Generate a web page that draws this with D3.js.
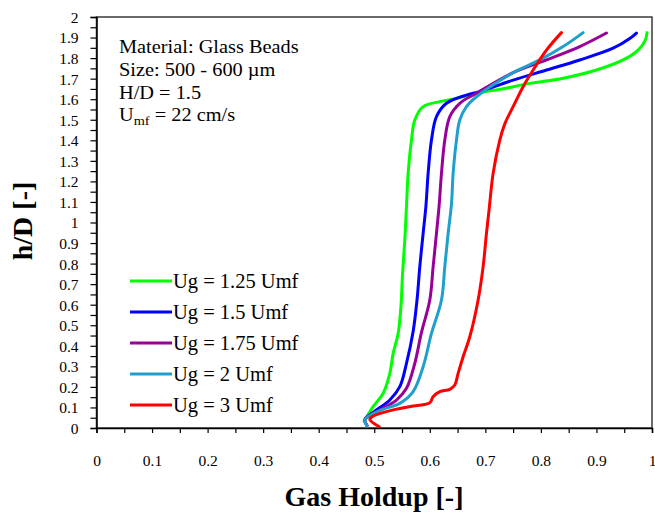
<!DOCTYPE html>
<html>
<head>
<meta charset="utf-8">
<script src="https://cdn.jsdelivr.net/npm/d3@7"></script>
<style>
  html, body { margin: 0; padding: 0; background: #fff; }
  svg { display: block; }
  text { font-family: "Liberation Serif", "Times New Roman", serif; fill: #000; }
</style>
</head>
<body>
<script>
// Gas holdup profiles along the bed height for five superficial velocities
const seriesNames = ["Ug = 1.25 Umf", "Ug = 1.5 Umf", "Ug = 1.75 Umf", "Ug = 2 Umf", "Ug = 3 Umf"];
const seriesColors = ["#00ff00", "#0000ff", "#990099", "#1f9fcb", "#ff0000"];

const holdup125 = [0.482,0.490,0.498,0.516,0.528,0.534,0.543,0.548,0.551,0.555,0.558,0.561,0.567,0.573,0.588,0.618,0.648,0.690,0.730,0.780,0.840,0.900,0.948,0.975,0.988,0.991];
const height125 = [0.035,0.070,0.104,0.169,0.266,0.363,0.460,0.590,0.753,0.915,1.080,1.239,1.401,1.499,1.564,1.588,1.604,1.632,1.650,1.677,1.702,1.742,1.791,1.839,1.888,1.924];

const holdup150 = [0.487,0.483,0.500,0.528,0.546,0.558,0.570,0.577,0.582,0.588,0.593,0.597,0.603,0.612,0.630,0.666,0.690,0.750,0.810,0.870,0.930,0.960,0.972];
const height150 = [0.012,0.040,0.080,0.136,0.201,0.315,0.470,0.623,0.785,0.947,1.080,1.239,1.401,1.515,1.580,1.620,1.637,1.693,1.742,1.791,1.848,1.895,1.922];

const holdup175 = [0.487,0.483,0.505,0.540,0.558,0.573,0.585,0.600,0.606,0.612,0.617,0.621,0.627,0.636,0.654,0.684,0.750,0.810,0.870,0.918];
const height175 = [0.012,0.040,0.080,0.136,0.193,0.315,0.465,0.623,0.785,0.947,1.090,1.239,1.401,1.515,1.580,1.629,1.729,1.791,1.856,1.922];

const holdup200 = [0.487,0.483,0.510,0.546,0.570,0.588,0.603,0.621,0.627,0.633,0.639,0.642,0.648,0.654,0.666,0.684,0.750,0.798,0.840,0.876];
const height200 = [0.010,0.040,0.085,0.120,0.177,0.298,0.460,0.623,0.785,0.947,1.090,1.239,1.401,1.499,1.564,1.612,1.729,1.791,1.856,1.924];

const holdup300 = [0.509,0.492,0.498,0.534,0.570,0.600,0.606,0.618,0.636,0.645,0.651,0.660,0.672,0.687,0.696,0.702,0.707,0.714,0.726,0.735,0.750,0.768,0.786,0.810,0.837];
const height300 = [0.006,0.042,0.058,0.088,0.107,0.123,0.152,0.177,0.188,0.209,0.266,0.347,0.444,0.623,0.785,0.947,1.069,1.239,1.401,1.480,1.564,1.661,1.742,1.839,1.924];

const xTickLabels = ["0","0.1","0.2","0.3","0.4","0.5","0.6","0.7","0.8","0.9","1"];
const yTickLabels = ["0","0.1","0.2","0.3","0.4","0.5","0.6","0.7","0.8","0.9","1","1.1","1.2","1.3","1.4","1.5","1.6","1.7","1.8","1.9","2"];

const infoLines = ["Material: Glass Beads", "Size: 500 - 600 \u00b5m", "H/D = 1.5"];

const series = [
  { name: seriesNames[0], color: seriesColors[0], x: holdup125, y: height125 },
  { name: seriesNames[1], color: seriesColors[1], x: holdup150, y: height150 },
  { name: seriesNames[2], color: seriesColors[2], x: holdup175, y: height175 },
  { name: seriesNames[3], color: seriesColors[3], x: holdup200, y: height200 },
  { name: seriesNames[4], color: seriesColors[4], x: holdup300, y: height300 }
];

const W = 655, H = 516;
const plot = { left: 96.5, right: 652, top: 17, bottom: 428 };

const svg = d3.select("body").append("svg").attr("width", W).attr("height", H);

const x = d3.scaleLinear().domain([0, 1]).range([plot.left, plot.right]);
const y = d3.scaleLinear().domain([0, 2]).range([plot.bottom, plot.top]);

// frame around the plotting area
svg.append("rect")
  .attr("x", plot.left).attr("y", plot.top)
  .attr("width", plot.right - plot.left).attr("height", plot.bottom - plot.top)
  .attr("fill", "none").attr("stroke", "#3a3a3a").attr("stroke-width", 1.5);

// axes: ticks every 0.05, labels every 0.1
const xTicks = d3.range(0, 21).map(i => i * 0.05);
const yTicks = d3.range(0, 41).map(i => i * 0.05);

const xAxis = d3.axisBottom(x).tickValues(xTicks).tickSize(5)
  .tickFormat((d, i) => i % 2 === 0 ? xTickLabels[i / 2] : "");
const yAxis = d3.axisLeft(y).tickValues(yTicks).tickSize(6)
  .tickFormat((d, i) => i % 2 === 0 ? yTickLabels[i / 2] : "");

const gx = svg.append("g").attr("transform", `translate(0,${plot.bottom})`).call(xAxis);
const gy = svg.append("g").attr("transform", `translate(${plot.left},0)`).call(yAxis);

[gx, gy].forEach(g => {
  g.select(".domain").attr("stroke", "#000").attr("stroke-width", 1.5);
  g.selectAll(".tick line").attr("stroke", "#000").attr("stroke-width", 1.2);
  g.selectAll(".tick text").style("font-family", "'Liberation Serif', serif").style("font-size", "15.5px").attr("fill", "#000");
});
gx.selectAll(".tick text").attr("dy", "0").attr("y", 38);
gy.selectAll(".tick text").attr("x", -18).attr("dy", "0.35em");

// data curves
const line = d3.line()
  .x(d => x(d[0]))
  .y(d => y(d[1]))
  .curve(d3.curveCatmullRom.alpha(0.5));

svg.append("g").selectAll("path")
  .data(series)
  .join("path")
  .attr("d", s => line(s.x.map((v, i) => [v, s.y[i]])))
  .attr("fill", "none")
  .attr("stroke", s => s.color)
  .attr("stroke-width", 3)
  .attr("stroke-linejoin", "round")
  .attr("stroke-linecap", "round");

// legend
const legend = svg.append("g");
const legendRows = series.map((s, i) => ({ s, yPos: 281 + i * 31 }));
legend.selectAll("line")
  .data(legendRows).join("line")
  .attr("x1", 130).attr("x2", 172)
  .attr("y1", d => d.yPos).attr("y2", d => d.yPos)
  .attr("stroke", d => d.s.color).attr("stroke-width", 3);
legend.selectAll("text")
  .data(legendRows).join("text")
  .attr("x", 173).attr("y", d => d.yPos)
  .attr("dy", "0.35em")
  .style("font-size", "20.5px")
  .text(d => d.s.name);

// material information block (slightly widened lettering)
const info = svg.append("g").attr("transform", "translate(119,0) scale(1.1,1)");
infoLines.forEach((t, i) => {
  info.append("text").attr("x", 0).attr("y", 53 + i * 23).style("font-size", "18.5px").text(t);
});
const umf = info.append("text").attr("x", 0).attr("y", 53 + 3 * 22.8).style("font-size", "18.5px");
umf.append("tspan").text("U");
umf.append("tspan").attr("dy", 4).style("font-size", "13px").text("mf");
umf.append("tspan").attr("dy", -4).text(" = 22 cm/s");

// axis titles
svg.append("text")
  .attr("x", 374).attr("y", 506)
  .attr("text-anchor", "middle")
  .style("font-size", "28px").style("font-weight", "bold")
  .text("Gas Holdup [-]");

svg.append("text")
  .attr("transform", `translate(32,221) rotate(-90)`)
  .attr("text-anchor", "middle")
  .style("font-size", "28px").style("font-weight", "bold")
  .text("h/D [-]");
</script>
</body>
</html>
